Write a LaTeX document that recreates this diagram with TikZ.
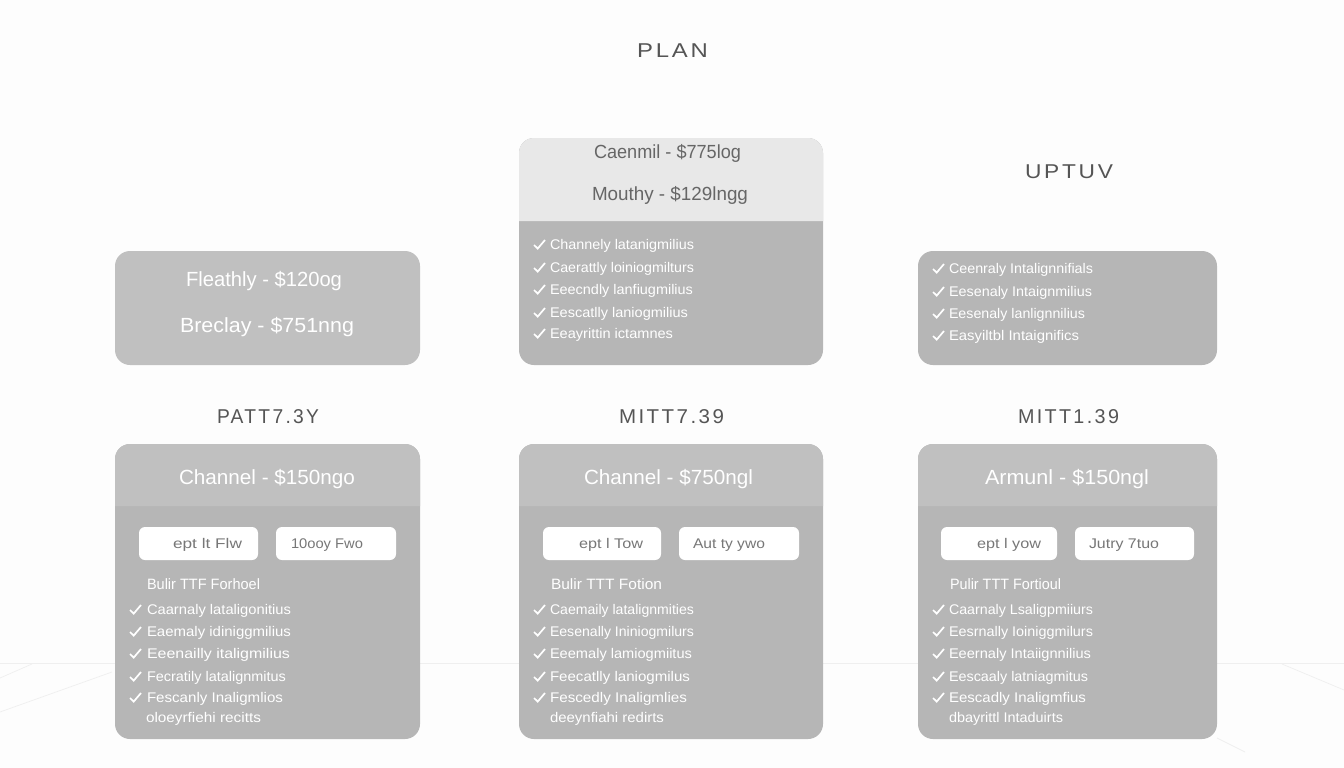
\documentclass[tikz,border=0pt]{standalone}
\usepackage{fontspec}
\setmainfont{Liberation Sans}
\newfontfamily\spacedfont[LetterSpace=12]{Liberation Sans}
\definecolor{pagebg}{HTML}{FDFDFD}
\definecolor{floorln}{HTML}{EFEFEF}
\definecolor{bodygray}{HTML}{B6B6B6}
\definecolor{headgray}{HTML}{C0C0C0}
\definecolor{lighthead}{HTML}{E8E8E8}
\definecolor{titleink}{HTML}{555555}
\definecolor{headink}{HTML}{666666}
\definecolor{btnink}{HTML}{777777}
\newcommand{\fitto}[3]{\resizebox{\dimexpr\numexpr#2-#1\relax pt\relax}{\height}{#3}}
% \T{style}{name}{x1}{x2}{baseline y}{text}
\newcommand{\T}[6]{\node[#1] (#2) at (#3,#5) {\fitto{#3}{#4}{#6}};}
\newcommand{\Chk}[2]{\draw[chk] (#1,#2+1) -- (#1+3.7,#2+4.6) -- (#1+11,#2-4);}
% \Feat{name}{checkx}{textx}{endx}{y}{text}
\newcommand{\Feat}[6]{\Chk{#2}{#5}\T{feat}{#1}{#3}{#4}{#5+5}{#6}}
% plain rounded panel: x1 x2 y1 y2 colour
\newcommand{\Solid}[5]{\fill[#5,rounded corners=15pt] (#1,#3) rectangle (#2,#4);}
% panel with header band: x1 x2 y1 yh y2 headcolour
\newcommand{\Panel}[6]{%
  \Solid{#1}{#2}{#3}{#5}{bodygray}
  \fill[#6] (#1,#4) [rounded corners=15pt] -- (#1,#3) -- (#2,#3) [sharp corners] -- (#2,#4) -- cycle;}
\newcommand{\Btn}[2]{\fill[white,rounded corners=6pt] (#1,527) rectangle (#2,560);}
\tikzset{
  txt/.style={anchor=base west,inner sep=0pt,outer sep=0pt},
  feat/.style={txt,white,font=\fontsize{14}{14}\selectfont},
  ttl/.style={txt,white,font=\fontsize{20.5}{21}\selectfont},
  darkttl/.style={txt,headink,font=\fontsize{19}{20}\selectfont},
  captxt/.style={txt,titleink,font=\fontsize{20}{20}\spacedfont},
  subhead/.style={txt,white,font=\fontsize{15}{15}\selectfont},
  btn/.style={txt,btnink,font=\fontsize{14}{14}\selectfont},
  chk/.style={white,line width=1.7pt},
  floorline/.style={floorln,line width=0.7pt}
}
\begin{document}
\begin{tikzpicture}[x=1pt,y=-1pt]
\useasboundingbox (0,0) rectangle (1344,768);
\fill[pagebg] (0,0) rectangle (1344,768);
% floor
\draw[floorline] (0,663) -- (1344,663);
\draw[floorline] (0,678) -- (32,664);
\draw[floorline] (0,712) -- (112,672);
\draw[floorline] (1282,664) -- (1344,690);
\draw[floorline] (1217,738) -- (1245,752);
% captions
\T{captxt}{plan}{637}{708}{58}{PLAN}
\T{captxt}{uptuv}{1025}{1113}{178}{UPTUV}
\T{captxt}{capa}{217}{319}{423}{PATT7.3Y}
\T{captxt}{capb}{619}{724}{423}{MITT7.39}
\T{captxt}{capc}{1018}{1119}{423}{MITT1.39}
% top left
\Solid{115}{420}{251}{365}{headgray}
\T{ttl}{tla}{186}{342}{286}{Fleathly - \$120og}
\T{ttl}{tlb}{180}{354}{332}{Breclay - \$751nng}
% top middle
\Panel{519}{823}{138}{221}{365}{lighthead}
\T{darkttl}{tma}{594}{741}{158}{Caenmil - \$775log}
\T{darkttl}{tmb}{592}{748}{200}{Mouthy - \$129lngg}
\Feat{tm1}{534}{550}{694}{244}{Channely latanigmilius}
\Feat{tm2}{534}{550}{694}{267}{Caerattly loiniogmilturs}
\Feat{tm3}{534}{550}{693}{289}{Eeecndly lanfiugmilius}
\Feat{tm4}{534}{550}{688}{312}{Eescatlly laniogmilius}
\Feat{tm5}{534}{550}{673}{333}{Eeayrittin ictamnes}
% top right
\Solid{918}{1217}{251}{365}{bodygray}
\Feat{tr1}{933}{949}{1093}{268}{Ceenraly Intalignnifials}
\Feat{tr2}{933}{949}{1092}{291}{Eesenaly Intaignmilius}
\Feat{tr3}{933}{949}{1085}{313}{Eesenaly lanlignnilius}
\Feat{tr4}{933}{949}{1079}{335}{Easyiltbl Intaignifics}
% bottom left
\Panel{115}{420}{444}{506}{739}{headgray}
\T{ttl}{bla}{179}{355}{484}{Channel - \$150ngo}
\Btn{139}{258}\Btn{276}{396}
\T{btn}{blb}{173}{242}{548}{ept lt Flw}
\T{btn}{blc}{291}{363}{548}{10ooy Fwo}
\T{subhead}{bld}{147}{260}{589}{Bulir TTF Forhoel}
\Feat{bl1}{130}{147}{291}{609}{Caarnaly lataligonitius}
\Feat{bl2}{130}{147}{291}{631}{Eaemaly idiniggmilius}
\Feat{bl3}{130}{147}{290}{653}{Eeenailly italigmilius}
\Feat{bl4}{130}{147}{286}{676}{Fecratily latalignmitus}
\Feat{bl5}{130}{147}{283}{697}{Fescanly Inaligmlios}
\T{feat}{bl6}{146}{261}{722}{oloeyrfiehi recitts}
% bottom middle
\Panel{519}{823}{444}{506}{739}{headgray}
\T{ttl}{bma}{584}{753}{484}{Channel - \$750ngl}
\Btn{543}{661}\Btn{679}{799}
\T{btn}{bmb}{579}{643}{548}{ept l Tow}
\T{btn}{bmc}{693}{765}{548}{Aut ty ywo}
\T{subhead}{bmd}{551}{662}{589}{Bulir TTT Fotion}
\Feat{bm1}{534}{550}{694}{609}{Caemaily latalignmities}
\Feat{bm2}{534}{550}{694}{631}{Eesenally Ininiogmilurs}
\Feat{bm3}{534}{550}{692}{653}{Eeemaly lamiogmiitus}
\Feat{bm4}{534}{550}{690}{676}{Feecatlly laniogmilus}
\Feat{bm5}{534}{550}{687}{697}{Fescedly Inaligmlies}
\T{feat}{bm6}{550}{664}{722}{deeynfiahi redirts}
% bottom right
\Panel{918}{1217}{444}{506}{739}{headgray}
\T{ttl}{bra}{985}{1149}{484}{Armunl - \$150ngl}
\Btn{941}{1057}\Btn{1075}{1194}
\T{btn}{brb}{977}{1041}{548}{ept l yow}
\T{btn}{brc}{1089}{1159}{548}{Jutry 7tuo}
\T{subhead}{brd}{950}{1061}{589}{Pulir TTT Fortioul}
\Feat{br1}{933}{949}{1093}{609}{Caarnaly Lsaligpmiiurs}
\Feat{br2}{933}{949}{1093}{631}{Eesrnally Ioiniggmilurs}
\Feat{br3}{933}{949}{1091}{653}{Eeernaly Intaiignnilius}
\Feat{br4}{933}{949}{1088}{676}{Eescaaly latniagmitus}
\Feat{br5}{933}{949}{1086}{697}{Eescadly Inaligmfius}
\T{feat}{br6}{949}{1063}{722}{dbayrittl Intaduirts}
\end{tikzpicture}
\end{document}
